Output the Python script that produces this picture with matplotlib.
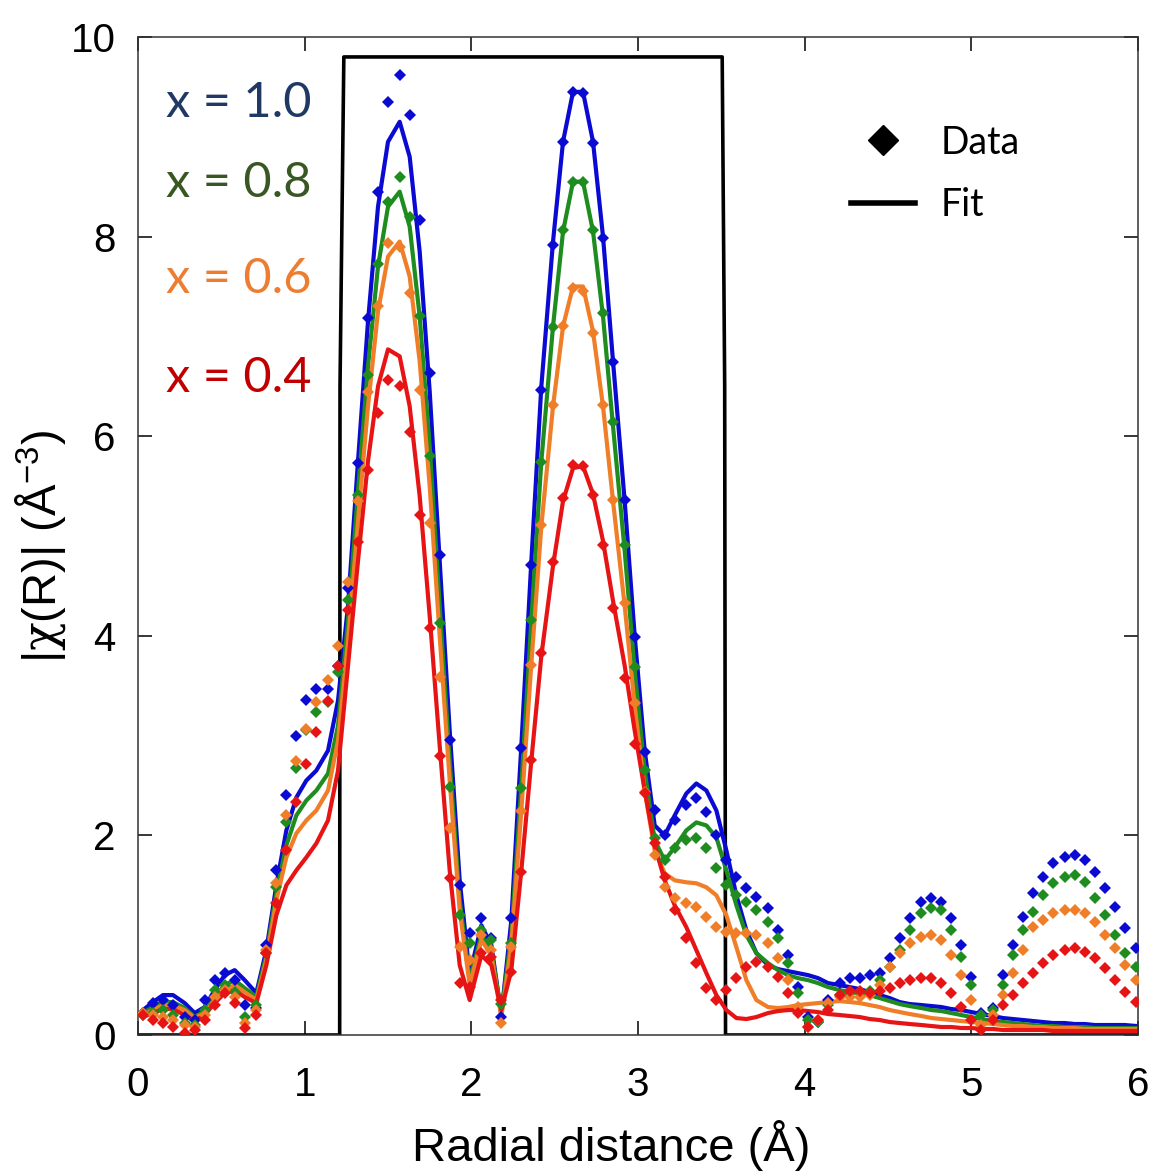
import matplotlib
matplotlib.use("Agg")
import matplotlib.pyplot as plt
from matplotlib.lines import Line2D

plt.rcParams['font.family'] = ['Liberation Sans', 'DejaVu Sans']
plt.rcParams['mathtext.fontset'] = 'custom'
plt.rcParams['mathtext.rm'] = 'Liberation Sans'
plt.rcParams['mathtext.it'] = 'DejaVu Serif'

# radial grid (Å)
r = [0.03, 0.09, 0.15, 0.21, 0.28, 0.34, 0.40, 0.46, 0.52, 0.58,
     0.64, 0.71, 0.77, 0.83, 0.89, 0.95, 1.01, 1.07, 1.14, 1.20,
     1.26, 1.32, 1.38, 1.44, 1.50, 1.57, 1.63, 1.69, 1.75, 1.81,
     1.87, 1.93, 1.99, 2.06, 2.12, 2.18, 2.24, 2.30, 2.36, 2.42,
     2.49, 2.55, 2.61, 2.67, 2.73, 2.79, 2.85, 2.92, 2.98, 3.04,
     3.10, 3.16, 3.22, 3.29, 3.35, 3.41, 3.47, 3.53, 3.59, 3.65,
     3.71, 3.78, 3.84, 3.90, 3.96, 4.02, 4.08, 4.14, 4.21, 4.27,
     4.33, 4.39, 4.45, 4.51, 4.57, 4.63, 4.70, 4.76, 4.82, 4.88,
     4.94, 5.00, 5.06, 5.13, 5.19, 5.25, 5.31, 5.37, 5.43, 5.49,
     5.56, 5.62, 5.68, 5.74, 5.80, 5.86, 5.92, 5.99]

# measured |chi(R)|
data_10 = [0.22, 0.32, 0.35, 0.30, 0.18, 0.15, 0.35, 0.55, 0.62, 0.55,
           0.30, 0.27, 0.90, 1.65, 2.40, 3.00, 3.36, 3.47, 3.47, 3.70,
           4.48, 5.73, 7.18, 8.45, 9.35, 9.62, 9.22, 8.17, 6.63, 4.81,
           2.96, 1.50, 1.02, 1.17, 0.97, 0.18, 1.17, 2.88, 4.71, 6.46,
           7.92, 8.95, 9.45, 9.44, 8.94, 7.99, 6.74, 5.36, 3.99, 2.84,
           2.25, 2.00, 2.15, 2.30, 2.37, 2.23, 2.00, 1.75, 1.58, 1.47,
           1.38, 1.27, 1.05, 0.80, 0.48, 0.18, 0.13, 0.35, 0.52, 0.57,
           0.57, 0.60, 0.62, 0.77, 0.97, 1.17, 1.33, 1.37, 1.33, 1.17,
           0.90, 0.58, 0.22, 0.27, 0.60, 0.90, 1.18, 1.42, 1.58, 1.72,
           1.78, 1.80, 1.75, 1.63, 1.47, 1.28, 1.07, 0.87]
data_08 = [0.20, 0.22, 0.25, 0.20, 0.12, 0.10, 0.25, 0.45, 0.50, 0.43,
           0.18, 0.30, 0.82, 1.48, 2.13, 2.68, 3.06, 3.24, 3.34, 3.64,
           4.36, 5.41, 6.61, 7.73, 8.35, 8.60, 8.20, 7.20, 5.80, 4.13,
           2.48, 1.20, 0.92, 1.05, 0.95, 0.31, 0.92, 2.47, 4.16, 5.74,
           7.09, 8.07, 8.55, 8.55, 8.07, 7.23, 6.14, 4.91, 3.69, 2.66,
           1.97, 1.75, 1.87, 1.95, 1.97, 1.87, 1.67, 1.50, 1.40, 1.33,
           1.25, 1.13, 0.97, 0.72, 0.42, 0.15, 0.13, 0.30, 0.40, 0.42,
           0.42, 0.44, 0.55, 0.68, 0.85, 1.05, 1.22, 1.27, 1.25, 1.05,
           0.78, 0.50, 0.20, 0.25, 0.50, 0.80, 1.05, 1.23, 1.40, 1.52,
           1.58, 1.60, 1.53, 1.37, 1.20, 1.00, 0.82, 0.68]
data_06 = [0.22, 0.20, 0.18, 0.15, 0.10, 0.08, 0.20, 0.38, 0.45, 0.38,
           0.12, 0.25, 0.85, 1.52, 2.20, 2.75, 3.07, 3.34, 3.56, 3.90,
           4.54, 5.35, 6.44, 7.30, 7.94, 7.90, 7.43, 6.46, 5.13, 3.59,
           2.07, 0.88, 0.75, 1.00, 0.85, 0.12, 0.88, 2.24, 3.71, 5.11,
           6.31, 7.10, 7.48, 7.45, 7.03, 6.31, 5.36, 4.33, 3.33, 2.43,
           1.80, 1.48, 1.37, 1.32, 1.28, 1.18, 1.08, 1.03, 1.02, 1.02,
           1.00, 0.92, 0.77, 0.55, 0.28, 0.08, 0.15, 0.32, 0.38, 0.38,
           0.38, 0.40, 0.50, 0.68, 0.82, 0.92, 0.98, 1.00, 0.95, 0.80,
           0.60, 0.35, 0.10, 0.20, 0.40, 0.62, 0.85, 1.08, 1.15, 1.22,
           1.25, 1.25, 1.22, 1.13, 1.00, 0.87, 0.70, 0.55]
data_04 = [0.20, 0.15, 0.12, 0.08, 0.02, 0.05, 0.15, 0.30, 0.42, 0.32,
           0.07, 0.20, 0.82, 1.32, 1.85, 2.33, 2.72, 3.04, 3.35, 3.70,
           4.26, 4.94, 5.66, 6.23, 6.56, 6.50, 6.04, 5.21, 4.08, 2.80,
           1.57, 0.52, 0.48, 0.82, 0.78, 0.35, 0.63, 1.63, 2.76, 3.83,
           4.74, 5.38, 5.71, 5.70, 5.41, 4.91, 4.28, 3.58, 2.92, 2.42,
           1.92, 1.58, 1.25, 0.97, 0.72, 0.47, 0.35, 0.45, 0.57, 0.68,
           0.73, 0.68, 0.58, 0.42, 0.22, 0.08, 0.15, 0.25, 0.40, 0.44,
           0.44, 0.42, 0.44, 0.47, 0.52, 0.55, 0.57, 0.57, 0.52, 0.42,
           0.28, 0.15, 0.05, 0.15, 0.30, 0.40, 0.52, 0.62, 0.72, 0.80,
           0.85, 0.87, 0.83, 0.77, 0.67, 0.55, 0.43, 0.33]

# fitted |chi(R)|
fit_10 = [0.25, 0.33, 0.40, 0.40, 0.32, 0.22, 0.28, 0.45, 0.60, 0.65,
          0.55, 0.42, 0.85, 1.50, 2.05, 2.38, 2.55, 2.65, 2.85, 3.35,
          4.30, 5.75, 7.15, 8.30, 8.95, 9.15, 8.80, 7.85, 6.45, 4.75,
          3.05, 1.55, 0.60, 1.10, 0.90, 0.20, 1.15, 2.90, 4.75, 6.50,
          7.95, 8.95, 9.45, 9.45, 8.95, 8.00, 6.75, 5.35, 4.00, 2.85,
          2.10, 2.00, 2.20, 2.42, 2.52, 2.45, 2.25, 1.85, 1.40, 1.05,
          0.82, 0.70, 0.66, 0.64, 0.62, 0.60, 0.57, 0.52, 0.50, 0.48,
          0.46, 0.43, 0.40, 0.37, 0.33, 0.31, 0.30, 0.29, 0.28, 0.26,
          0.25, 0.23, 0.21, 0.19, 0.17, 0.16, 0.15, 0.14, 0.13, 0.12,
          0.12, 0.11, 0.11, 0.10, 0.10, 0.10, 0.10, 0.09]
fit_08 = [0.22, 0.28, 0.33, 0.33, 0.27, 0.18, 0.24, 0.38, 0.50, 0.55,
          0.47, 0.38, 0.80, 1.42, 1.90, 2.20, 2.35, 2.45, 2.62, 3.10,
          4.15, 5.45, 6.70, 7.70, 8.30, 8.45, 8.10, 7.20, 5.90, 4.30,
          2.75, 1.35, 0.55, 1.00, 0.85, 0.22, 1.00, 2.50, 4.15, 5.75,
          7.10, 8.05, 8.55, 8.55, 8.05, 7.20, 6.10, 4.85, 3.65, 2.65,
          1.95, 1.75, 1.88, 2.05, 2.13, 2.10, 1.98, 1.65, 1.30, 1.00,
          0.82, 0.72, 0.65, 0.60, 0.57, 0.55, 0.52, 0.48, 0.45, 0.43,
          0.42, 0.40, 0.37, 0.34, 0.31, 0.29, 0.27, 0.25, 0.24, 0.22,
          0.20, 0.18, 0.16, 0.14, 0.13, 0.12, 0.11, 0.10, 0.09, 0.09,
          0.08, 0.08, 0.08, 0.07, 0.07, 0.07, 0.07, 0.07]
fit_06 = [0.20, 0.25, 0.30, 0.30, 0.25, 0.17, 0.22, 0.35, 0.45, 0.50,
          0.43, 0.35, 0.75, 1.35, 1.78, 2.02, 2.15, 2.25, 2.45, 2.95,
          3.95, 5.15, 6.30, 7.25, 7.80, 7.95, 7.60, 6.75, 5.50, 4.00,
          2.55, 1.25, 0.50, 0.95, 0.80, 0.18, 0.90, 2.25, 3.72, 5.10,
          6.30, 7.10, 7.50, 7.50, 7.05, 6.30, 5.35, 4.30, 3.30, 2.45,
          1.85, 1.62, 1.55, 1.53, 1.52, 1.48, 1.40, 1.20, 0.88, 0.55,
          0.35, 0.28, 0.27, 0.28, 0.30, 0.31, 0.32, 0.33, 0.34, 0.33,
          0.32, 0.30, 0.28, 0.25, 0.23, 0.21, 0.19, 0.17, 0.16, 0.15,
          0.14, 0.13, 0.12, 0.11, 0.10, 0.09, 0.09, 0.08, 0.08, 0.07,
          0.07, 0.07, 0.06, 0.06, 0.06, 0.06, 0.06, 0.06]
fit_04 = [0.18, 0.22, 0.26, 0.26, 0.20, 0.14, 0.20, 0.32, 0.42, 0.45,
          0.38, 0.32, 0.70, 1.20, 1.50, 1.65, 1.78, 1.92, 2.15, 2.65,
          3.70, 4.75, 5.75, 6.50, 6.87, 6.80, 6.30, 5.40, 4.20, 2.90,
          1.65, 0.70, 0.35, 0.80, 0.70, 0.25, 0.65, 1.65, 2.75, 3.80,
          4.70, 5.35, 5.68, 5.70, 5.42, 4.95, 4.35, 3.70, 3.05, 2.45,
          1.90, 1.55, 1.30, 1.08, 0.85, 0.62, 0.40, 0.25, 0.17, 0.16,
          0.18, 0.22, 0.24, 0.25, 0.25, 0.24, 0.23, 0.21, 0.20, 0.19,
          0.18, 0.16, 0.15, 0.13, 0.12, 0.11, 0.10, 0.09, 0.08, 0.08,
          0.07, 0.07, 0.06, 0.06, 0.05, 0.05, 0.05, 0.05, 0.05, 0.04,
          0.04, 0.04, 0.04, 0.04, 0.04, 0.04, 0.04, 0.04]

# Fourier-transform window
win_r = [0.0, 1.21, 1.212, 1.235, 3.505, 3.52, 3.525, 6.0]
win_y = [0.0, 0.0, 6.5, 9.8, 9.8, 6.5, 0.0, 0.0]

labels = ['x = 1.0', 'x = 0.8', 'x = 0.6', 'x = 0.4']
line_colors = ['#0a0ad2', '#1e8c1e', '#f07d28', '#e61414']
text_colors = ['#1f3864', '#385723', '#ed7d31', '#c00000']
datas = [data_10, data_08, data_06, data_04]
fits = [fit_10, fit_08, fit_06, fit_04]

fig = plt.figure(figsize=(11.5, 11.74), dpi=100)
ax = fig.add_axes([0.12, 0.1184, 0.8696, 0.8501])

ax.plot(win_r, win_y, color='black', lw=2.6, zorder=1)

for d, f, c in zip(datas, fits, line_colors):
    ax.plot(r, f, color=c, lw=3.0, solid_joinstyle='round', zorder=2)
    ax.plot(r, d, linestyle='none', marker='D', ms=6.5, color=c,
            markeredgewidth=0, zorder=3)

ypos = [0.934, 0.854, 0.757, 0.658]
for lab, tc, yy in zip(labels, text_colors, ypos):
    ax.text(0.028, yy, lab, transform=ax.transAxes, color=tc,
            fontsize=35, family=['Lato', 'DejaVu Sans'], va='center', ha='left')

handles = [Line2D([], [], linestyle='none', marker='D', ms=15, color='black'),
           Line2D([], [], color='black', lw=4)]
ax.legend(handles, ['Data', 'Fit'], loc='upper left', bbox_to_anchor=(0.679, 0.946),
          frameon=False, prop={'family': 'Lato', 'size': 27},
          handlelength=1.7, handletextpad=0.7, labelspacing=0.7)

ax.set_xlim(0, 6)
ax.set_ylim(0, 10)
ax.set_xticks([0, 1, 2, 3, 4, 5, 6])
ax.set_yticks([0, 2, 4, 6, 8, 10])
ax.tick_params(direction='in', length=10, width=1.1, top=True, right=True,
               labelsize=29)
ax.tick_params(axis='x', pad=22)
ax.tick_params(axis='y', pad=16)
for s in ax.spines.values():
    s.set_linewidth(1.1)
    s.set_color('#333333')

ax.set_xlabel('Radial distance (Å)', fontsize=34)
ax.xaxis.set_label_coords(0.473, -0.085)
ax.set_ylabel(r'|$\chi$(R)| (Å$^{-3}$)', fontsize=34)
ax.yaxis.set_label_coords(-0.07, 0.49)

fig.savefig('out.png', dpi=100)
